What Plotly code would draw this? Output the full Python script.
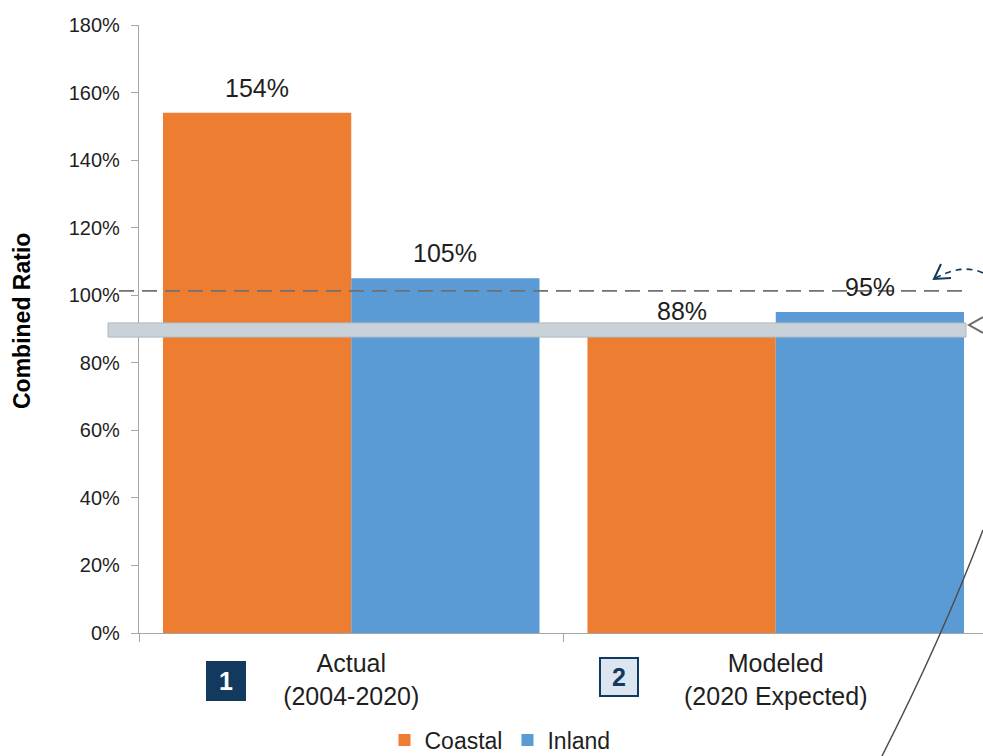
import plotly.graph_objects as go

# --- data -------------------------------------------------------------
categories = ["Actual<br>(2004-2020)", "Modeled<br>(2020 Expected)"]
coastal = [154, 88]
inland = [105, 95]
y_ticks = [0, 20, 40, 60, 80, 100, 120, 140, 160, 180]
y_tick_labels = ["0%", "20%", "40%", "60%", "80%", "100%", "120%", "140%", "160%", "180%"]
target_ratio = 101.3          # dashed reference line
band_range = [87.6, 91.8]     # shaded band across the chart

ORANGE = "#ED7D31"
BLUE = "#5B9BD5"
NAVY = "#123A5E"
TEXT = "#1F1F1F"
AXIS = "#A6A6A6"
FONT = "Liberation Sans, Arial, sans-serif"

W, H = 983, 756
L, R, T, B = 139, 983, 25, 633
BARGAP = 0.113


def px(x):
    """pixel x -> paper x"""
    return (x - L) / (R - L)


def py(y):
    """pixel y -> paper y"""
    return (B - y) / (B - T)


fig = go.Figure()
fig.add_trace(go.Bar(name="Coastal", x=categories, y=coastal,
                     marker=dict(color=ORANGE, line=dict(width=0))))
fig.add_trace(go.Bar(name="Inland", x=categories, y=inland,
                     marker=dict(color=BLUE, line=dict(width=0))))

# value labels above each bar
annotations = []
half = (1 - BARGAP) / 4
for i, (c, n) in enumerate(zip(coastal, inland)):
    for xpos, v in ((i - half, c), (i + half, n)):
        annotations.append(dict(x=xpos, y=v, xref="x", yref="y", text=f"{v}%",
                                showarrow=False, xanchor="center", yanchor="middle",
                                yshift=25,
                                font=dict(size=25, color=TEXT, family=FONT)))

# y-axis title
annotations.append(dict(x=px(22), y=py(321), xref="paper", yref="paper",
                        text="<b>Combined Ratio</b>", textangle=-90, showarrow=False,
                        xanchor="center", yanchor="middle",
                        font=dict(size=23, color="#000000", family=FONT)))

# numbered markers beside the category labels
annotations.append(dict(x=px(226), y=py(681), xref="paper", yref="paper",
                        xanchor="center", yanchor="middle",
                        text="<b>1</b>", showarrow=False, width=36, height=36,
                        bgcolor=NAVY, bordercolor=NAVY, borderwidth=1,
                        font=dict(size=25, color="white", family=FONT)))
annotations.append(dict(x=px(619), y=py(677), xref="paper", yref="paper",
                        xanchor="center", yanchor="middle",
                        text="<b>2</b>", showarrow=False, width=34, height=34,
                        bgcolor="#DCE6F1", bordercolor=NAVY, borderwidth=2,
                        font=dict(size=25, color=NAVY, family=FONT)))

shapes = [
    # dashed reference line
    dict(type="line", xref="paper", yref="y", x0=px(119), x1=px(964),
         y0=target_ratio, y1=target_ratio,
         line=dict(color="#707070", width=1.6, dash="15px,8px")),
    # shaded band
    dict(type="rect", xref="paper", yref="y", x0=px(108), x1=px(966),
         y0=band_range[0], y1=band_range[1], layer="above",
         fillcolor="#C9D1D9", line=dict(color="#AEB8C2", width=1)),
    # dashed callout arrow (navy)
    dict(type="path", xref="paper", yref="paper",
         path=f"M {px(983)},{py(273)} Q {px(962)},{py(263)} {px(934)},{py(279)}",
         line=dict(color=NAVY, width=1.6, dash="6px,5px")),
    dict(type="path", xref="paper", yref="paper",
         path=f"M {px(941)},{py(264)} L {px(934)},{py(279)} L {px(951)},{py(278)}",
         line=dict(color=NAVY, width=2)),
    # grey arrow head at the band end
    dict(type="path", xref="paper", yref="paper",
         path=f"M {px(983)},{py(317)} L {px(969)},{py(325)} L {px(983)},{py(333)}",
         line=dict(color="#6B6B6B", width=2)),
    # thin connector curve
    dict(type="path", xref="paper", yref="paper",
         path=f"M {px(983)},{py(530)} Q {px(941)},{py(640)} {px(882)},{py(756)}",
         line=dict(color="#4D4D4D", width=1.5)),
]

fig.update_layout(
    width=W, height=H,
    margin=dict(l=L, r=W - R, t=T, b=H - B, autoexpand=False),
    paper_bgcolor="white", plot_bgcolor="white",
    barmode="group", bargap=BARGAP, bargroupgap=0,
    font=dict(family=FONT, color=TEXT),
    showlegend=True,
    legend=dict(orientation="h", x=px(500), xanchor="center", y=py(740),
                yanchor="middle", font=dict(size=23, color=TEXT, family=FONT),
                itemwidth=30, bgcolor="rgba(0,0,0,0)"),
    annotations=annotations,
    shapes=shapes,
)

fig.update_xaxes(range=[-0.5, -0.5 + (R - L) / 424.5], showline=True, linecolor=AXIS,
                 linewidth=1.3, ticks="outside", tickson="boundaries", ticklen=8,
                 tickcolor=AXIS, tickwidth=1.3, showgrid=False, zeroline=False,
                 ticklabelstandoff=8,
                 tickfont=dict(size=25, color=TEXT, family=FONT))
fig.update_yaxes(range=[0, 180], tickvals=y_ticks, ticktext=y_tick_labels,
                 showline=True, linecolor=AXIS, linewidth=1.3, ticks="outside",
                 ticklen=7, tickcolor=AXIS, tickwidth=1.3, showgrid=False,
                 zeroline=False, ticklabelstandoff=7,
                 tickfont=dict(size=20, color=TEXT, family=FONT))

fig.write_html("out.html")
